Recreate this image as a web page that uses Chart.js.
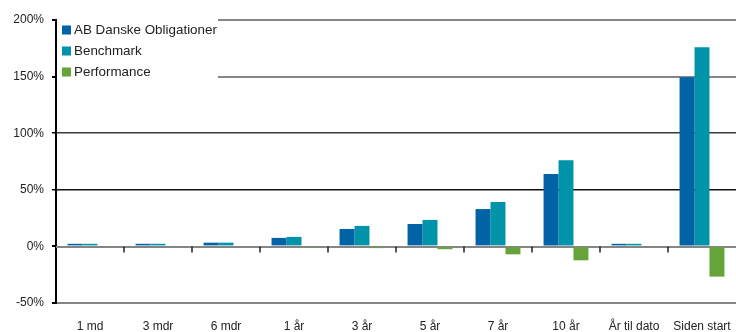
<!DOCTYPE html>
<html>
<head>
<meta charset="utf-8">
<script src="https://cdn.jsdelivr.net/npm/chart.js@4.4.1/dist/chart.umd.min.js"></script>
<style>
  html, body { margin: 0; padding: 0; background: #ffffff; }
  #wrap { width: 736px; height: 332px; position: relative; }
</style>
</head>
<body>
<div id="wrap"><canvas id="chart" width="736" height="332"></canvas></div>
<script>
// Afkast pr. periode (%)
const categories = ['1 md', '3 mdr', '6 mdr', '1 år', '3 år', '5 år', '7 år', '10 år', 'År til dato', 'Siden start'];
const fundReturn = [2.3, 2.3, 3.3, 7.5, 15.4, 19.8, 33.0, 64.0, 2.3, 149.5];
const benchmarkReturn = [2.3, 2.3, 3.3, 8.4, 18.1, 23.4, 39.2, 76.2, 2.3, 176.0];
const performance = [0, 0, 0, -1.2, -1.5, -2.5, -7.0, -12.3, 0, -26.7];
const yTicks = [-50, 0, 50, 100, 150, 200];

const seriesNames = ['AB Danske Obligationer', 'Benchmark', 'Performance'];
const seriesColors = ['#0063a5', '#0093a9', '#64a43a'];
const FONT = "'Liberation Sans', Arial, sans-serif";

// Gridline styling per value
function gridColor(v) {
  if (v === 100) return '#3a3a3a';
  if (v === 50) return '#111111';
  return '#858585';
}
function gridWidth(v) {
  if (v === 100 || v === 50) return 1.5;
  return 2;
}

// Zero line under the bars; tick marks at category boundaries and the legend box on top
const overlay = {
  id: 'overlay',
  beforeDatasetsDraw(chart) {
    const { ctx, chartArea, scales } = chart;
    const y0 = scales.y.getPixelForValue(0);
    ctx.save();
    ctx.strokeStyle = '#858585';
    ctx.lineWidth = 2;
    ctx.beginPath();
    ctx.moveTo(chartArea.left, y0 + 0.5);
    ctx.lineTo(chartArea.right, y0 + 0.5);
    ctx.stroke();
    ctx.restore();
  },
  afterDatasetsDraw(chart) {
    const { ctx, chartArea, scales } = chart;
    const x = scales.x, y = scales.y;
    const y0 = y.getPixelForValue(0);
    ctx.save();
    ctx.strokeStyle = '#222222';
    ctx.lineWidth = 1.5;
    for (let i = 1; i < categories.length; i++) {
      const bx = (x.getPixelForValue(i - 1) + x.getPixelForValue(i)) / 2;
      ctx.beginPath();
      ctx.moveTo(bx, y0);
      ctx.lineTo(bx, y0 + 6);
      ctx.stroke();
    }

    // legend
    const lx = chartArea.left + 1;
    const ly = chartArea.top - 3;
    ctx.fillStyle = '#ffffff';
    ctx.fillRect(lx, ly, 218 - lx, 63);
    ctx.font = '13.4px ' + FONT;
    ctx.textBaseline = 'middle';
    ctx.textAlign = 'left';
    for (let i = 0; i < seriesNames.length; i++) {
      const cy = chartArea.top + 10 + i * 21;
      ctx.fillStyle = seriesColors[i];
      ctx.fillRect(chartArea.left + 6, cy - 4.5, 9, 9);
      ctx.fillStyle = '#222222';
      ctx.fillText(seriesNames[i], chartArea.left + 18, cy + 0.5);
    }
    ctx.restore();
  }
};

new Chart(document.getElementById('chart'), {
  type: 'bar',
  data: {
    labels: categories,
    datasets: [
      { label: seriesNames[0], data: fundReturn, backgroundColor: seriesColors[0] },
      { label: seriesNames[1], data: benchmarkReturn, backgroundColor: seriesColors[1] },
      { label: seriesNames[2], data: performance, backgroundColor: seriesColors[2] }
    ]
  },
  options: {
    responsive: false,
    animation: false,
    devicePixelRatio: 1,
    layout: { padding: { left: 0, right: 0, top: 20, bottom: 0 } },
    datasets: { bar: { categoryPercentage: 0.66, barPercentage: 1.0, borderWidth: 0 } },
    plugins: {
      legend: { display: false },
      tooltip: { enabled: false }
    },
    scales: {
      x: {
        afterFit(scale) {
          scale.height = 29;
          scale.paddingLeft = 0;
          scale.paddingRight = 0;
        },
        grid: { display: false, drawTicks: false },
        border: { display: false },
        ticks: { color: '#222222', font: { family: FONT, size: 12 }, padding: 16, maxRotation: 0, autoSkip: false }
      },
      y: {
        min: -50,
        max: 200,
        afterFit(scale) { scale.width = 56; },
        afterBuildTicks(scale) { scale.ticks = yTicks.map(v => ({ value: v })); },
        border: { display: true, color: '#000000', width: 2 },
        grid: {
          color: c => c.tick.value === 0 ? 'rgba(0,0,0,0)' : gridColor(c.tick.value),
          lineWidth: c => gridWidth(c.tick.value),
          tickColor: '#000000',
          tickLength: 4
        },
        ticks: {
          color: '#222222',
          font: { family: FONT, size: 12 },
          padding: 8,
          callback: v => v + '%'
        }
      }
    }
  },
  plugins: [overlay]
});
</script>
</body>
</html>
